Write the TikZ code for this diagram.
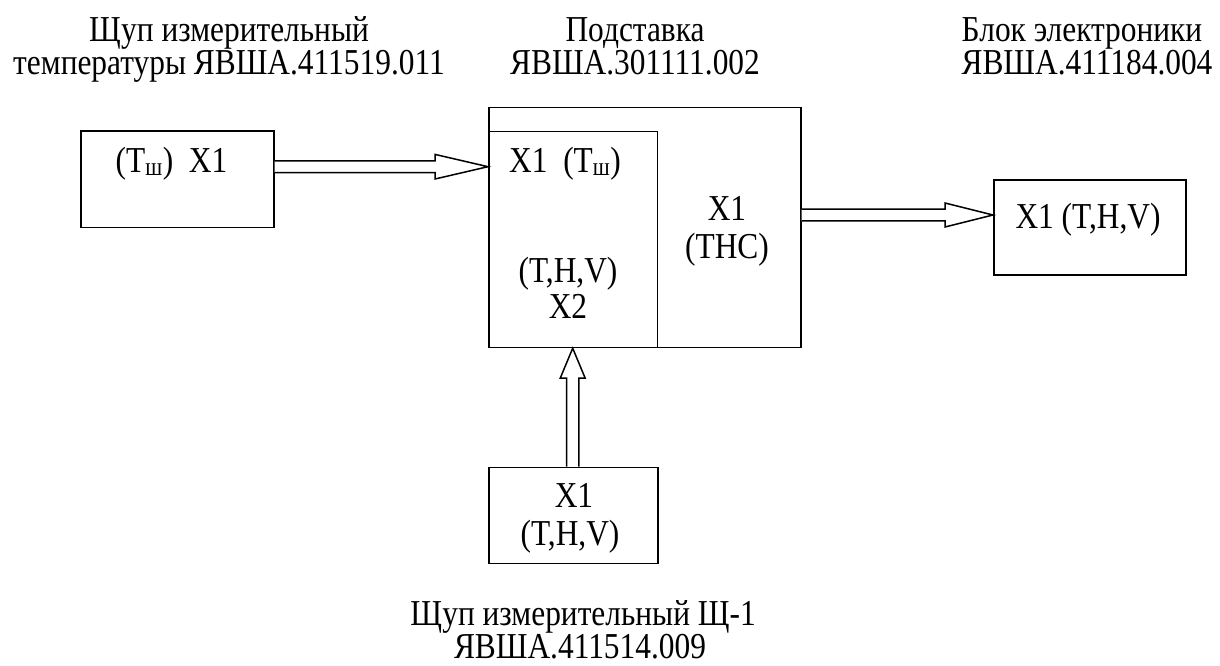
\documentclass[tikz,border=0pt]{standalone}
\usepackage{fontspec}
\setmainfont{Liberation Serif}[FakeStretch=0.86]
\usetikzlibrary{calc}
\begin{document}
\begin{tikzpicture}[x=1pt,y=-1pt,
  box/.style={draw,line width=1.5pt,inner sep=0pt,anchor=north west},
  txt/.style={font=\fontsize{36.5}{33}\selectfont,inner sep=0pt,anchor=base,
    text height=24pt,text depth=6pt},
  arr/.style={draw,line width=1.5pt,fill=white,line join=miter}]
\useasboundingbox (0,0) rectangle (1220,666);
% boxes
\node[box,minimum width=193pt,minimum height=96pt] (L) at (80,130.5) {};
\node[box,minimum width=312pt,minimum height=240pt] (P) at (488,106.7) {};
\node[box,minimum width=168.7pt,minimum height=215.7pt] (I) at (488,131) {};
\node[box,minimum width=192pt,minimum height=95pt] (R) at (993,179) {};
\node[box,minimum width=169pt,minimum height=96pt] (B) at (488,466.7) {};
% labels
\node[txt] (t1a) at (229,42) {Щуп измерительный};
\node[txt] (t1b) at (229,75) {температуры ЯВША.411519.011};
\node[txt] (t2a) at (635,42) {Подставка};
\node[txt] (t2b) at (635,75) {ЯВША.301111.002};
\node[txt] (t3a) at (1082,42) {Блок электроники};
\node[txt] (t3b) at (1087,75) {ЯВША.411184.004};
\node[txt] (t4a) at (583,625) {Щуп измерительный Щ-1};
\node[txt] (t4b) at (580,658) {ЯВША.411514.009};
% box texts
\node[txt] (a1) at (171.5,172) {(T\textsubscript{ш})\ \ X1};
\node[txt] (a2) at (565,172) {X1\ \ (T\textsubscript{ш})};
\node[txt] (a3) at (568,282) {(T,H,V)};
\node[txt] (a3b) at (568,318) {X2};
\node[txt] (a4) at (727,220) {X1};
\node[txt] (a4b) at (727,258) {(THC)};
\node[txt] (a5) at (1088,228) {X1 (T,H,V)};
\node[txt] (a6) at (574,507) {X1};
\node[txt] (a6b) at (570,545) {(T,H,V)};
% arrows
\coordinate (e1) at (I.west |- 0,166.7);
\coordinate (s1) at (L.east |- e1);
\draw[arr] ($(s1)+(0,-5.8)$) -- ($(e1)+(-53,-5.8)$) -- ($(e1)+(-53,-12.3)$) -- (e1)
  -- ($(e1)+(-53,12.3)$) -- ($(e1)+(-53,5.8)$) -- ($(s1)+(0,5.8)$);
\coordinate (e2) at (R.west |- 0,215);
\coordinate (s2) at (P.east |- e2);
\draw[arr] ($(s2)+(0,-5.8)$) -- ($(e2)+(-48,-5.8)$) -- ($(e2)+(-48,-12)$) -- (e2)
  -- ($(e2)+(-48,12)$) -- ($(e2)+(-48,5.8)$) -- ($(s2)+(0,5.8)$);
\coordinate (e3) at (572.7,0 |- I.south);
\coordinate (s3) at (e3 |- B.north);
\draw[arr] ($(s3)+(-6.2,0)$) -- ($(e3)+(-6.2,30)$) -- ($(e3)+(-12.5,30)$) -- (e3)
  -- ($(e3)+(12.5,30)$) -- ($(e3)+(6.2,30)$) -- ($(s3)+(6.2,0)$);
\end{tikzpicture}
\end{document}
